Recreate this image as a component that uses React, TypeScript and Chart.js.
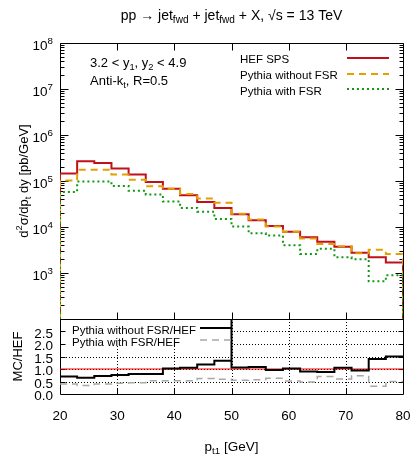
import React, { useEffect, useRef } from "react";
import { Chart, registerables } from "chart.js";
Chart.register(...registerables);

// ---------- data ----------
const binEdges = [20, 23, 26, 29, 32, 35, 38, 41, 44, 47, 50, 53, 56, 59, 62, 65, 68, 71, 74, 77, 80];
const hefSps = [1.46e5, 2.7e5, 2.45e5, 1.88e5, 1.39e5, 9.5e4, 6.8e4, 4.9e4, 3.5e4, 2.6e4, 1.9e4, 1.4e4, 1.05e4, 7.9e3, 6.0e3, 4.75e3, 3.7e3, 2.75e3, 2.2e3, 1.7e3];
const pythiaNoFsr = [1.03e5, 1.76e5, 1.76e5, 1.39e5, 1.07e5, 7.7e4, 6.8e4, 5.2e4, 4.15e4, 3.35e4, 1.95e4, 1.46e4, 1.02e4, 7.9e3, 5.6e3, 4.25e3, 3.8e3, 2.7e3, 3.2e3, 2.6e3];
const pythiaFsr = [5.8e4, 9.8e4, 9.8e4, 7.8e4, 6.1e4, 5.1e4, 3.6e4, 2.6e4, 2.15e4, 1.5e4, 1.02e4, 7.3e3, 6.5e3, 4.0e3, 2.6e3, 3.35e3, 2.2e3, 2.0e3, 6.6e2, 8.9e2];
const ratioNoFsr = [0.7, 0.65, 0.72, 0.76, 0.8, 0.8, 1.02, 1.05, 1.18, 1.33, 1.06, 1.08, 0.96, 1.02, 0.9, 0.88, 1.05, 0.94, 1.4, 1.5];
const ratioFsr = [0.4, 0.34, 0.4, 0.43, 0.45, 0.53, 0.53, 0.53, 0.62, 0.59, 0.55, 0.57, 0.63, 0.52, 0.48, 0.7, 0.6, 0.73, 0.31, 0.5];
// the reference ratio curve shoots off the top of the panel at this bin edge
const ratioNoFsrSpikeX = 50;
const ratioNoFsrSpikeY = 10;
const ratioReference = 1;

const xTickValues = [20, 30, 40, 50, 60, 70, 80];
const yDecadeExponents = [2, 3, 4, 5, 6, 7, 8];
const yLabelExponents = [3, 4, 5, 6, 7, 8];
const ratioTickValues = [0, 0.5, 1, 1.5, 2, 2.5];
const ratioGridValues = [0.5, 1, 1.5, 2, 2.5];

const X_MIN = 20, X_MAX = 80;
const Y_MIN = 1e2, Y_MAX = 1e8;
const R_MIN = 0, R_MAX = 3;

const COL_RED = "#c0101a";
const COL_ORANGE = "#e69f00";
const COL_GREEN = "#119a11";
const COL_GRAY = "#a8a8a8";
const FONT = '"Liberation Sans", Arial, sans-serif';

type Kind = "n" | "sup" | "sub";
type Seg = [string, Kind];

function segFont(size: number, k: Kind) {
  const s = k === "n" ? size : size * 0.72;
  return `${s}px ${FONT}`;
}
function measureRich(ctx: CanvasRenderingContext2D, segs: Seg[], size: number) {
  let w = 0;
  for (const [t, k] of segs) {
    ctx.font = segFont(size, k);
    w += ctx.measureText(t).width;
  }
  return w;
}
function drawRich(ctx: CanvasRenderingContext2D, x: number, y: number, segs: Seg[], size: number, align: "left" | "center" | "right", color = "#000") {
  const w = measureRich(ctx, segs, size);
  let cx = align === "left" ? x : align === "center" ? x - w / 2 : x - w;
  ctx.textAlign = "left";
  ctx.textBaseline = "alphabetic";
  ctx.fillStyle = color;
  const base = y + size * 0.36;
  for (const [t, k] of segs) {
    ctx.font = segFont(size, k);
    const dy = k === "sup" ? -size * 0.42 : k === "sub" ? size * 0.24 : 0;
    ctx.fillText(t, cx, base + dy);
    cx += ctx.measureText(t).width;
  }
}

function outline(edges: number[], vals: number[], floor: number) {
  const pts: { x: number; y: number }[] = [{ x: edges[0], y: floor }];
  vals.forEach((v, i) => {
    pts.push({ x: edges[i], y: v });
    pts.push({ x: edges[i + 1], y: v });
  });
  pts.push({ x: edges[edges.length - 1], y: floor });
  return pts;
}
function ratioOutline(edges: number[], vals: number[], spikeX?: number, spikeY?: number) {
  const pts: { x: number; y: number }[] = [];
  vals.forEach((v, i) => {
    pts.push({ x: edges[i], y: v });
    pts.push({ x: edges[i + 1], y: v });
    if (spikeX !== undefined && edges[i + 1] === spikeX) {
      pts.push({ x: spikeX, y: spikeY as number });
    }
  });
  return pts;
}

const px = (v: number) => Math.round(v) + 0.5;

const mainDecor = {
  id: "mainDecor",
  beforeDatasetsDraw(chart: any) {
    const ctx: CanvasRenderingContext2D = chart.ctx;
    const { left, right, top, bottom } = chart.chartArea;
    const xs = chart.scales.x, ys = chart.scales.y;
    ctx.save();
    ctx.strokeStyle = "#000";
    ctx.lineWidth = 1;
    ctx.beginPath();
    ctx.moveTo(px(left), px(top)); ctx.lineTo(px(right), px(top));
    ctx.lineTo(px(right), px(bottom)); ctx.lineTo(px(left), px(bottom)); ctx.closePath();
    for (const v of xTickValues) {
      if (v === X_MIN || v === X_MAX) continue;
      const x = px(xs.getPixelForValue(v));
      ctx.moveTo(x, px(bottom)); ctx.lineTo(x, px(bottom) - 7);
      ctx.moveTo(x, px(top)); ctx.lineTo(x, px(top) + 7);
    }
    for (const e of yDecadeExponents) {
      const y = px(ys.getPixelForValue(Math.pow(10, e)));
      ctx.moveTo(px(left), y); ctx.lineTo(px(left) + 8, y);
      ctx.moveTo(px(right), y); ctx.lineTo(px(right) - 8, y);
      if (e < 8) {
        for (let k = 2; k <= 9; k++) {
          const ym = px(ys.getPixelForValue(k * Math.pow(10, e)));
          ctx.moveTo(px(left), ym); ctx.lineTo(px(left) + 4, ym);
          ctx.moveTo(px(right), ym); ctx.lineTo(px(right) - 4, ym);
        }
      }
    }
    ctx.stroke();
    ctx.restore();
  },
  afterDatasetsDraw(chart: any) {
    const ctx: CanvasRenderingContext2D = chart.ctx;
    const { left, right, top, bottom } = chart.chartArea;
    const ys = chart.scales.y;
    ctx.save();
    for (const e of yLabelExponents) {
      const y = ys.getPixelForValue(Math.pow(10, e));
      drawRich(ctx, 53, y + 2, [["10", "n"], [String(e), "sup"]], 13.5, "right");
    }
    drawRich(ctx, (left + right) / 2, 15, [["pp → jet", "n"], ["fwd", "sub"], [" + jet", "n"], ["fwd", "sub"], [" + X, √s = 13 TeV", "n"]], 14, "center");
    ctx.save();
    ctx.translate(23, (top + bottom) / 2);
    ctx.rotate(-Math.PI / 2);
    drawRich(ctx, 0, 0, [["d", "n"], ["2", "sup"], ["σ/dp", "n"], ["t", "sub"], [" dy [pb/GeV]", "n"]], 13, "center");
    ctx.restore();
    drawRich(ctx, 90, 62, [["3.2 < y", "n"], ["1", "sub"], [", y", "n"], ["2", "sub"], [" < 4.9", "n"]], 13, "left");
    drawRich(ctx, 90, 80.5, [["Anti-k", "n"], ["t", "sub"], [", R=0.5", "n"]], 13, "left");
    const items: [string, string, number[]][] = [
      ["HEF SPS", COL_RED, []],
      ["Pythia without FSR", COL_ORANGE, [7, 5]],
      ["Pythia with FSR", COL_GREEN, [2, 3]],
    ];
    items.forEach(([label, col, dash], i) => {
      const y = 59 + i * 15.7;
      drawRich(ctx, 240, y, [[label, "n"]], 11.5, "left");
      ctx.beginPath();
      ctx.strokeStyle = col;
      ctx.lineWidth = 2;
      ctx.setLineDash(dash);
      ctx.moveTo(347, Math.round(y - 1));
      ctx.lineTo(389, Math.round(y - 1));
      ctx.stroke();
      ctx.setLineDash([]);
    });
    ctx.restore();
  },
};

const ratioDecor = {
  id: "ratioDecor",
  beforeDatasetsDraw(chart: any) {
    const ctx: CanvasRenderingContext2D = chart.ctx;
    const { left, right, top, bottom } = chart.chartArea;
    const xs = chart.scales.x, ys = chart.scales.y;
    ctx.save();
    ctx.strokeStyle = "#000";
    ctx.lineWidth = 1;
    ctx.setLineDash([1, 2]);
    ctx.beginPath();
    for (const v of xTickValues) {
      if (v === X_MIN || v === X_MAX) continue;
      const x = px(xs.getPixelForValue(v));
      ctx.moveTo(x, top); ctx.lineTo(x, bottom);
    }
    for (const v of ratioGridValues) {
      const y = px(ys.getPixelForValue(v));
      ctx.moveTo(left, y); ctx.lineTo(right, y);
    }
    ctx.stroke();
    ctx.setLineDash([]);
    ctx.fillStyle = "#fff";
    ctx.fillRect(left + 1, top + 1, 171, 26);
    ctx.beginPath();
    ctx.moveTo(px(left), px(top)); ctx.lineTo(px(right), px(top));
    ctx.lineTo(px(right), px(bottom)); ctx.lineTo(px(left), px(bottom)); ctx.closePath();
    for (const v of xTickValues) {
      if (v === X_MIN || v === X_MAX) continue;
      const x = px(xs.getPixelForValue(v));
      ctx.moveTo(x, px(bottom)); ctx.lineTo(x, px(bottom) - 6);
    }
    for (const v of ratioTickValues) {
      if (v === R_MIN) continue;
      const y = px(ys.getPixelForValue(v));
      ctx.moveTo(px(left), y); ctx.lineTo(px(left) + 5, y);
      ctx.moveTo(px(right), y); ctx.lineTo(px(right) - 5, y);
    }
    ctx.stroke();
    ctx.restore();
  },
  afterDatasetsDraw(chart: any) {
    const ctx: CanvasRenderingContext2D = chart.ctx;
    const { left, right, top, bottom } = chart.chartArea;
    const xs = chart.scales.x, ys = chart.scales.y;
    ctx.save();
    const items: [string, string, number[], number][] = [
      ["Pythia without FSR/HEF", "#000", [], 2],
      ["Pythia with FSR/HEF", COL_GRAY, [7, 5], 1.5],
    ];
    items.forEach(([label, col, dash, lw], i) => {
      const y = top + 10.5 + i * 12;
      drawRich(ctx, 72, y, [[label, "n"]], 11.5, "left");
      ctx.beginPath();
      ctx.strokeStyle = col;
      ctx.lineWidth = lw;
      ctx.setLineDash(dash);
      ctx.moveTo(200, Math.round(y - 2));
      ctx.lineTo(231, Math.round(y - 2));
      ctx.stroke();
      ctx.setLineDash([]);
    });
    for (const v of ratioTickValues) {
      const y = ys.getPixelForValue(v);
      drawRich(ctx, 53, y + 1.5, [[v.toFixed(1), "n"]], 13.5, "right");
    }
    for (const v of xTickValues) {
      drawRich(ctx, xs.getPixelForValue(v), bottom + 21.5, [[String(v), "n"]], 13.5, "center");
    }
    drawRich(ctx, (left + right) / 2, bottom + 52, [["p", "n"], ["t1", "sub"], [" [GeV]", "n"]], 13.5, "center");
    ctx.save();
    ctx.translate(17, (top + bottom) / 2);
    ctx.rotate(-Math.PI / 2);
    drawRich(ctx, 0, 0, [["MC/HEF", "n"]], 13, "center");
    ctx.restore();
    ctx.restore();
  },
};

export default function App() {
  const mainRef = useRef<HTMLCanvasElement>(null);
  const ratioRef = useRef<HTMLCanvasElement>(null);

  useEffect(() => {
    const common = { pointRadius: 0, fill: false, tension: 0 };
    const mainChart = new Chart(mainRef.current as HTMLCanvasElement, {
      type: "line",
      data: {
        datasets: [
          { label: "HEF SPS", data: outline(binEdges, hefSps, Y_MIN), borderColor: COL_RED, borderWidth: 2, order: 2, ...common },
          { label: "Pythia without FSR", data: outline(binEdges, pythiaNoFsr, Y_MIN), borderColor: COL_ORANGE, borderWidth: 2, borderDash: [7, 5], order: 1, ...common },
          { label: "Pythia with FSR", data: outline(binEdges, pythiaFsr, Y_MIN), borderColor: COL_GREEN, borderWidth: 2, borderDash: [2, 3], order: 0, ...common },
        ],
      },
      options: {
        responsive: false,
        animation: false,
        events: [],
        layout: { padding: { left: 60, right: 9, top: 43, bottom: 1 } },
        scales: {
          x: { type: "linear", min: X_MIN, max: X_MAX, display: false },
          y: { type: "logarithmic", min: Y_MIN, max: Y_MAX, display: false },
        },
        plugins: { legend: { display: false }, tooltip: { enabled: false }, title: { display: false } },
      } as any,
      plugins: [mainDecor],
    });

    const ratioChart = new Chart(ratioRef.current as HTMLCanvasElement, {
      type: "line",
      data: {
        datasets: [
          { label: "Pythia without FSR/HEF", data: ratioOutline(binEdges, ratioNoFsr, ratioNoFsrSpikeX, ratioNoFsrSpikeY), borderColor: "#000", borderWidth: 2, order: 0, ...common },
          { label: "Pythia with FSR/HEF", data: ratioOutline(binEdges, ratioFsr), borderColor: COL_GRAY, borderWidth: 1.5, borderDash: [7, 5], order: 1, ...common },
          { label: "HEF/HEF", data: [{ x: X_MIN, y: ratioReference }, { x: X_MAX, y: ratioReference }], borderColor: "#ff0000", borderWidth: 1, order: 2, ...common },
        ],
      },
      options: {
        responsive: false,
        animation: false,
        events: [],
        layout: { padding: { left: 60, right: 9, top: 19, bottom: 60 } },
        scales: {
          x: { type: "linear", min: X_MIN, max: X_MAX, display: false },
          y: { type: "linear", min: R_MIN, max: R_MAX, display: false },
        },
        plugins: { legend: { display: false }, tooltip: { enabled: false }, title: { display: false } },
      } as any,
      plugins: [ratioDecor],
    });

    return () => {
      mainChart.destroy();
      ratioChart.destroy();
    };
  }, []);

  return (
    <div style={{ position: "fixed", left: 0, top: 0, width: 412, height: 454, background: "#fff" }}>
      <canvas ref={mainRef} width={412} height={320} style={{ position: "absolute", left: 0, top: 0, width: 412, height: 320 }} />
      <canvas ref={ratioRef} width={412} height={154} style={{ position: "absolute", left: 0, top: 300, width: 412, height: 154 }} />
    </div>
  );
}
